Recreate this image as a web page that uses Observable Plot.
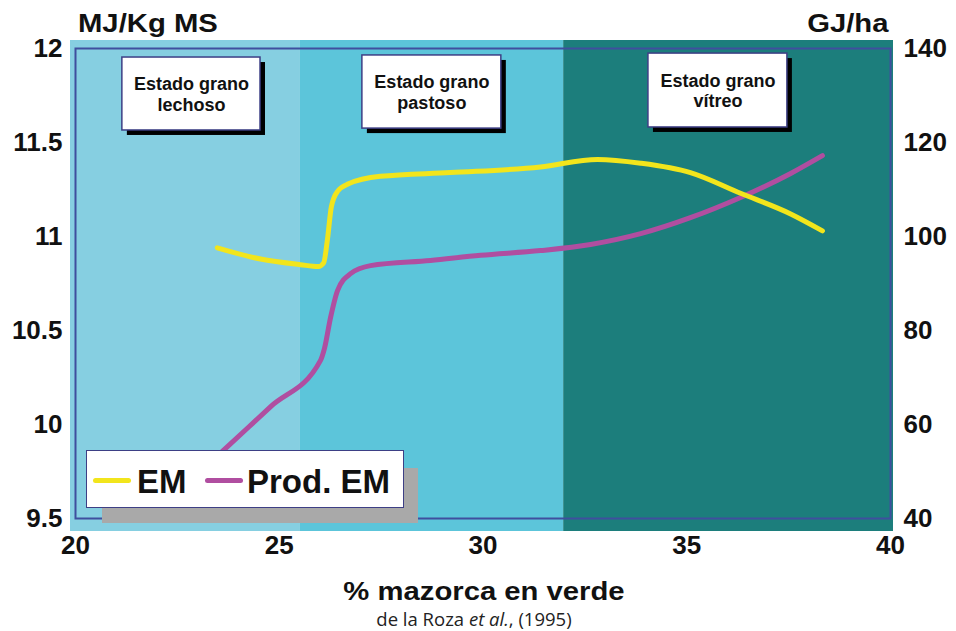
<!DOCTYPE html>
<html>
<head>
<meta charset="utf-8">
<script src="https://cdn.jsdelivr.net/npm/d3@7"></script>
<script src="https://cdn.jsdelivr.net/npm/@observablehq/plot@0.6"></script>
<style>
  body { margin: 0; background: #fff; }
  #wrap { position: relative; width: 956px; height: 631px; overflow: hidden; font-family: "Liberation Sans", Arial, sans-serif; }
  #wrap svg { position: absolute; left: 0; top: 0; }
  .t { position: absolute; font-weight: bold; white-space: nowrap; line-height: 1; color: #111; }
  .lg-shadow { position: absolute; left: 102px; top: 468px; width: 316px; height: 55px; background: #a9a9a9; }
  .lg-box { position: absolute; left: 86px; top: 450px; width: 318px; height: 58px; background: #fff; border: 1.5px solid #3d3f85; box-sizing: border-box; }
  .sw { position: absolute; top: 478px; width: 38px; height: 5px; border-radius: 3px; }
  .cap { position: absolute; font-family: "Open Sans", sans-serif; font-size: 18.5px; line-height: 1; color: #222; white-space: nowrap; }
</style>
</head>
<body>
<div id="wrap"></div>
<script>
// ---- data ----
const emX = [23.48, 24.54, 25.52, 25.96, 26.09, 26.18, 26.28, 26.43, 26.70, 27.48, 29.20, 31.41, 32.81, 33.87, 35.09, 36.32, 37.55, 38.33];
const emY = [10.94, 10.88, 10.85, 10.84, 10.86, 10.98, 11.16, 11.24, 11.28, 11.32, 11.34, 11.37, 11.41, 11.39, 11.34, 11.23, 11.12, 11.03]; // MJ/Kg MS

const prodX = [23.07, 23.63, 24.79, 26.01, 26.11, 26.26, 26.43, 26.75, 27.24, 28.71, 29.94, 31.41, 32.64, 33.87, 35.09, 36.32, 37.55, 38.33];
const prodY = [50.0, 54.5, 63.8, 73.6, 76.2, 82.8, 88.5, 92.1, 93.8, 94.9, 96.0, 97.0, 98.3, 100.6, 104.0, 108.3, 113.4, 117.2]; // GJ/ha

const stageNames = ["Estado grano\nlechoso", "Estado grano\npastoso", "Estado grano\nvítreo"];
const stageStart = [20, 25.52, 31.98];
const stageEnd = [25.52, 31.98, 40];

const xTicks = [20, 25, 30, 35, 40];
const leftTicks = [9.5, 10, 10.5, 11, 11.5, 12];
const rightTicks = [40, 60, 80, 100, 120, 140];

// annotation boxes (data coordinates)
const boxX1 = [21.15, 27.04, 34.06];
const boxX2 = [24.54, 30.45, 37.47];
const boxTop = [11.952, 11.963, 11.973];
const boxBottom = [11.564, 11.574, 11.580];

// ---- build ----
const toLeft = v => 9.5 + (v - 40) / 40;   // GJ/ha -> MJ/Kg MS scale
const em = emX.map((x, i) => ({x, y: emY[i]}));
const prod = prodX.map((x, i) => ({x, y: toLeft(prodY[i])}));
const stages = stageNames.map((name, i) => ({name, x1: stageStart[i], x2: stageEnd[i]}));
const boxes = stageNames.map((name, i) => ({name, x1: boxX1[i], x2: boxX2[i], y1: boxBottom[i], y2: boxTop[i]}));
const stageColors = ["#86cfe1", "#5cc5da", "#1c7e7c"];

const chart = Plot.plot({
  width: 956,
  height: 631,
  marginLeft: 75,
  marginRight: 66,
  marginTop: 48,
  marginBottom: 113,
  x: {domain: [20, 40]},
  y: {domain: [9.5, 12]},
  style: {fontFamily: "Liberation Sans, Arial, sans-serif", fontWeight: "bold", background: "transparent", overflow: "visible", color: "#111"},
  marks: [
    Plot.rect([stages[0]], {x1: "x1", x2: "x2", y1: 9.5, y2: 12, fill: stageColors[0], insetLeft: -5, insetTop: -8, insetBottom: -13}),
    Plot.rect([stages[1]], {x1: "x1", x2: "x2", y1: 9.5, y2: 12, fill: stageColors[1], insetTop: -8, insetBottom: -13}),
    Plot.rect([stages[2]], {x1: "x1", x2: "x2", y1: 9.5, y2: 12, fill: stageColors[2], insetRight: -3, insetTop: -8, insetBottom: -13}),
    Plot.frame({stroke: "#3f4f9e", strokeWidth: 2}),
    Plot.axisY({anchor: "left", ticks: leftTicks, tickSize: 0, tickPadding: 13, tickFormat: d => String(d), fontSize: 26, label: null}),
    Plot.axisY({anchor: "right", ticks: rightTicks.map(toLeft), tickSize: 0, tickPadding: 13, tickFormat: d => String(Math.round(40 + (d - 9.5) * 40)), fontSize: 26, label: null}),
    Plot.axisX({ticks: xTicks, tickSize: 0, tickPadding: 17, tickFormat: d => String(d), fontSize: 26, label: null}),
    Plot.rect(boxes, {x1: "x1", x2: "x2", y1: "y1", y2: "y2", fill: "#000", dx: 5, dy: 5}),
    Plot.rect(boxes, {x1: "x1", x2: "x2", y1: "y1", y2: "y2", fill: "#fff", stroke: "#3d3f85", strokeWidth: 1.5}),
    Plot.text(boxes, {x: d => (d.x1 + d.x2) / 2, y: d => (d.y1 + d.y2) / 2, text: "name", fontSize: 18, lineHeight: 1.12, fill: "#111"}),
    Plot.line(prod, {x: "x", y: "y", stroke: "#b04ea0", strokeWidth: 5, curve: "monotone-x", strokeLinecap: "round"}),
    Plot.line(em, {x: "x", y: "y", stroke: "#f2e51c", strokeWidth: 5, curve: "monotone-x", strokeLinecap: "round"})
  ]
});

const wrap = document.getElementById("wrap");
wrap.appendChild(chart);

function addDiv(cls, html, css) {
  const d = document.createElement("div");
  d.className = cls;
  d.innerHTML = html;
  Object.assign(d.style, css);
  wrap.appendChild(d);
  return d;
}

// axis titles
addDiv("t", "MJ/Kg MS", {left: "78px", top: "11px", fontSize: "25px", transform: "scaleX(1.17)", transformOrigin: "left center"});
addDiv("t", "GJ/ha", {right: "68px", top: "11px", fontSize: "25px", transform: "scaleX(1.17)", transformOrigin: "right center"});
addDiv("t", "% mazorca en verde", {left: "484px", top: "579px", fontSize: "25px", transform: "translateX(-50%) scaleX(1.17)"});
addDiv("cap", "de la Roza <i>et al.</i>, (1995)", {left: "474px", top: "610px", transform: "translateX(-50%)"});

// legend
addDiv("lg-shadow", "", {});
addDiv("lg-box", "", {});
addDiv("sw", "", {left: "93px", background: "#f2e51c"});
addDiv("sw", "", {left: "205px", background: "#b04ea0"});
addDiv("t", "EM", {left: "137px", top: "465px", fontSize: "33px"});
addDiv("t", "Prod. EM", {left: "247px", top: "465px", fontSize: "33px"});
</script>
</body>
</html>
